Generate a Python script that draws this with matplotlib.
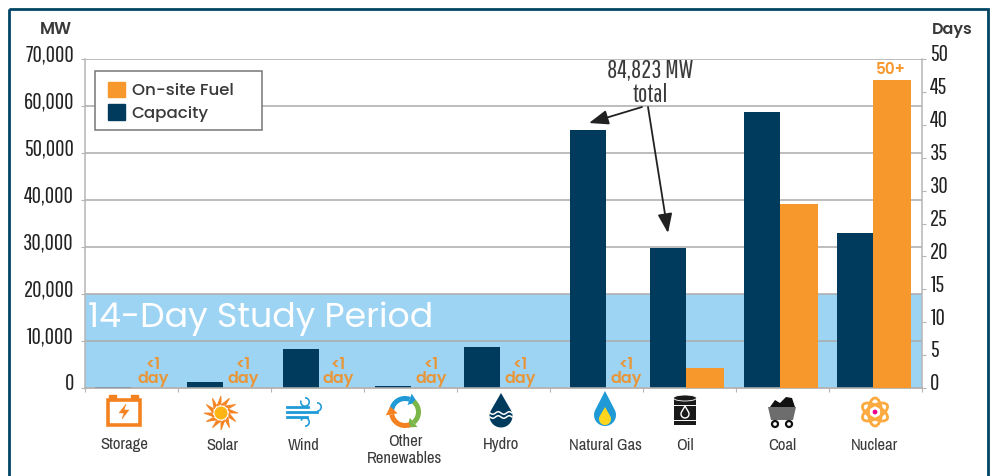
import matplotlib
matplotlib.use('Agg')
import matplotlib.pyplot as plt
from matplotlib.patches import Rectangle, Circle, Ellipse, Polygon, Wedge, FancyArrowPatch
from matplotlib.transforms import ScaledTranslation
from matplotlib.ticker import FuncFormatter
import numpy as np

# Data
categories = ['Storage', 'Solar', 'Wind', 'Other\nRenewables', 'Hydro',
              'Natural Gas', 'Oil', 'Coal', 'Nuclear']
capacity_mw = [300, 1280, 8300, 500, 8800, 55000, 29800, 58700, 33000]
fuel_days = [0, 0, 0, 0, 0, 0, 3, 28, 46.8]
day_labels = ['<1', '<1', '<1', '<1', '<1', '<1', '', '', '50+']
study_period_mw = 20000
total_label = '84,823 MW\ntotal'

# Layout, in pixels of the original picture
W, H = 995, 476
LEFT, RIGHT, TOP, BOTTOM = 85, 922, 59, 388
BAR_LEFT = [95, 187, 283, 375, 464, 570, 650, 744, 837]
CAP_W, FUEL_W = 36, 38
LABEL_X = [124, 222, 304, 405, 501, 605, 685, 782, 875]
LABEL_Y = [445, 445, 445, 450, 445, 445, 445, 445, 445]
DAY_X = [153, 243, 338, 431, 520, 626]

NAVY = '#003a5d'
ORANGE = '#f7982d'
BAND = '#9dd3f3'
GRID = '#ababab'
TXT = '#3a3a3a'
TICKFONT = ['Pathway Gothic One', 'Liberation Sans']
NARROW = ['Archivo Narrow', 'Liberation Sans']
WIDE = ['Poppins', 'Inter', 'DejaVu Sans']

fig = plt.figure(figsize=(W / 100, H / 100), dpi=100)
ax = fig.add_axes([LEFT / W, 1 - BOTTOM / H, (RIGHT - LEFT) / W, (BOTTOM - TOP) / H])
ax.set_xlim(LEFT, RIGHT)
ax.set_ylim(0, 70000)
ax2 = ax.twinx()
ax2.set_ylim(0, 50)
ax2.patch.set_visible(False)

# Blue band and grid
ax.axhspan(0, study_period_mw, color=BAND, lw=0, zorder=0)
ax.set_yticks(np.arange(0, 70001, 10000))
ax.yaxis.set_major_formatter(FuncFormatter(lambda v, p: f'{int(v):,}'))
ax.grid(axis='y', color=GRID, lw=1.1, zorder=1)
ax.set_axisbelow(True)
ax.set_xticks(np.linspace(LEFT, RIGHT, 10))
ax.set_xticklabels([])
ax2.set_yticks(np.arange(0, 51, 5))

# Bars
lefts = np.array(BAR_LEFT)
ax.bar(lefts, capacity_mw, width=CAP_W, align='edge', color=NAVY, zorder=3)
ax2.bar(lefts + CAP_W, fuel_days, width=FUEL_W, align='edge', color=ORANGE, zorder=3)

for a in (ax, ax2):
    for s in a.spines.values():
        s.set_visible(False)
    a.spines['bottom'].set_visible(True)
    a.spines['bottom'].set_color('#b5b5b5')
    a.spines['bottom'].set_linewidth(1.1)
ax2.spines['right'].set_visible(True)
ax2.spines['right'].set_color('#b5b5b5')
ax2.spines['right'].set_linewidth(1.1)
ax.spines['left'].set_visible(True)
ax.spines['left'].set_color('#b5b5b5')
ax.spines['left'].set_linewidth(1.1)

ax.tick_params(axis='x', length=3, color='#b5b5b5')
ax.tick_params(axis='y', length=3, color='#b5b5b5', pad=5, labelsize=16.5, labelcolor='#222222')
ax2.tick_params(axis='y', length=3, color='#b5b5b5', pad=3, labelsize=16.5, labelcolor='#222222')
shift = ScaledTranslation(0, 4.4 / 72, fig.dpi_scale_trans)
for lab in ax.get_yticklabels() + ax2.get_yticklabels():
    lab.set_family(TICKFONT)
    lab.set_transform(lab.get_transform() + shift)

# Overlay in picture pixels for border, texts and icons
ov = fig.add_axes([0, 0, 1, 1], zorder=10)
ov.set_xlim(0, W)
ov.set_ylim(H, 0)
ov.axis('off')
ov.patch.set_visible(False)
ov.add_patch(Rectangle((9, 9), 979, 490, fill=False, ec='#004564', lw=2, clip_on=True))

ov.text(56, 30, 'MW', ha='center', va='center', family=WIDE, weight='semibold', fontsize=12, color=TXT)
ov.text(952, 30, 'Days', ha='center', va='center', family=WIDE, weight='semibold', fontsize=11.5, color=TXT)

ov.text(88, 319, '14-Day Study Period', ha='left', va='center', family=WIDE, fontsize=25, color='white')

for x, txt in zip(DAY_X, day_labels):
    ov.text(x, 372, txt + '\nday', ha='center', va='center', family=WIDE, weight='semibold', fontsize=11.5,
            color='#e8963a', linespacing=0.85)
ov.text(891, 70, day_labels[8], ha='center', va='center', family=WIDE, weight='semibold', fontsize=11, color=ORANGE)

for x, y, name in zip(LABEL_X, LABEL_Y, categories):
    ov.text(x, y, name, ha='center', va='center', family=NARROW, fontsize=12, color=TXT, linespacing=1.1)

# Legend, the frame is wider than the entries need
ov.add_patch(Rectangle((95, 71), 167, 59, fc='white', ec='#777777', lw=1.1, zorder=4))
handles = [Rectangle((0, 0), 1, 1, color=ORANGE), Rectangle((0, 0), 1, 1, color=NAVY)]
leg = ov.legend(handles, ['On-site Fuel', 'Capacity'], loc='upper left',
                bbox_to_anchor=(101 / W, 1 - 75 / H), borderaxespad=0, frameon=False,
                handlelength=1.05, handleheight=1.05, handletextpad=0.4, labelspacing=0.3,
                prop={'family': WIDE, 'weight': 'medium', 'size': 12}, labelcolor=TXT)

# Callout
ov.text(650, 83, total_label, ha='center', va='center', family=TICKFONT, fontsize=18,
        color=TXT, linespacing=1.0)
for tail, tip in [((642, 107), (589, 123)), ((648, 107), (668, 233))]:
    ov.add_patch(FancyArrowPatch(tail, tip, arrowstyle='-|>,head_length=4.5,head_width=1.7',
                                 color='#222222', lw=1.3, shrinkA=0, shrinkB=0, mutation_scale=2.6))


def battery(cx, cy):
    c = '#f58220'
    ov.add_patch(Rectangle((cx - 16, cy - 12), 32, 25, fc='white', ec=c, lw=2.6))
    ov.add_patch(Rectangle((cx - 15, cy - 17), 7, 5, fc=c, ec=c))
    ov.add_patch(Rectangle((cx + 7, cy - 17), 7, 5, fc=c, ec=c))
    ov.add_patch(Polygon([(cx + 2, cy - 8), (cx - 5, cy + 1), (cx, cy + 1), (cx - 2, cy + 7),
                          (cx + 5, cy - 2), (cx, cy - 2)], fc=c, ec=c, lw=0.3))


def sun(cx, cy):
    for ang in np.arange(0, 360, 30):
        a = np.radians(ang)
        b = a + np.radians(30)
        ov.add_patch(Polygon([(cx + 8 * np.cos(a), cy + 8 * np.sin(a)),
                              (cx + 17 * np.cos(b), cy + 17 * np.sin(b)),
                              (cx + 9 * np.cos(b), cy + 9 * np.sin(b))], fc='#f58220', ec='#f58220', lw=0.6))
    ov.add_patch(Circle((cx, cy), 6.5, fc='#fdb515', ec='none'))


def wind(cx, cy):
    c = '#1f9ad6'
    for y, x0, x1 in [(-5, -17, 4), (0, -17, 13), (5, -17, 3)]:
        ov.plot([cx + x0, cx + x1], [cy + y, cy + y], color=c, lw=2)
    ov.add_patch(Wedge((cx + 1, cy - 10), 5, 270, 200, width=1.6, fc=c, ec='none'))
    ov.add_patch(Wedge((cx + 13, cy - 5), 5, 270, 90, width=1.6, fc=c, ec='none'))
    ov.add_patch(Wedge((cx + 1, cy + 10), 5, 200, 90, width=1.6, fc=c, ec='none'))


def recycle(cx, cy):
    for a0, a1, c in [(190, 290, '#1f9ad6'), (310, 50, '#7ab648'), (70, 170, '#f58220')]:
        ov.add_patch(Wedge((cx, cy), 16, a0, a1, width=5, fc=c, ec='none'))
        a = np.radians(a1)
        p = np.array([cx + 13.5 * np.cos(a), cy + 13.5 * np.sin(a)])
        d = np.array([-np.sin(a), np.cos(a)])
        n = np.array([np.cos(a), np.sin(a)])
        ov.add_patch(Polygon([p + n * 6, p - n * 6, p + d * 8], fc=c, ec='none'))


def drop(cx, cy, r, top, fc, ec='none'):
    t = np.linspace(-np.pi * 0.15, np.pi * 1.15, 30)
    pts = [(cx, cy - top)] + [(cx + r * np.cos(v), cy + r * np.sin(v)) for v in t]
    ov.add_patch(Polygon(pts, fc=fc, ec=ec))


def hydro(cx, cy):
    drop(cx, cy + 5, 11.5, 23, NAVY)
    for dy in (2, 6):
        x = np.linspace(cx - 11, cx + 11, 20)
        ov.plot(x, cy + dy + 1.3 * np.sin((x - cx) * 0.57), color='white', lw=1.1)


def flame(cx, cy):
    drop(cx, cy + 5, 11, 24, '#1f9ad6')
    drop(cx, cy + 9, 6, 12, '#ffd51e')


def barrel(cx, cy):
    ov.add_patch(Rectangle((cx - 11, cy - 13), 22, 27, fc='#1a1a1a', ec='none'))
    ov.add_patch(Ellipse((cx, cy - 13), 23, 6, fc='#1a1a1a', ec='white', lw=0.6))
    for dy in (-6, 9):
        ov.plot([cx - 11, cx + 11], [cy + dy, cy + dy], color='white', lw=0.7)
    drop(cx, cy + 3, 4, 8, '#1a1a1a', 'white')


def coal(cx, cy):
    ov.add_patch(Polygon([(cx - 12, cy - 4), (cx - 7, cy - 11), (cx - 2, cy - 8), (cx + 4, cy - 14),
                          (cx + 10, cy - 13), (cx + 13, cy - 4)], fc='#111111', ec='none'))
    ov.add_patch(Polygon([(cx - 14, cy - 4), (cx + 14, cy - 4), (cx + 11, cy + 9), (cx - 11, cy + 9)],
                         fc='#6d6d6d', ec='none'))
    for dx in (-7, 7):
        ov.add_patch(Circle((cx + dx, cy + 13), 3, fc='white', ec='#111111', lw=1.6))


def atom(cx, cy):
    for ang in (30, 90, 150):
        ov.add_patch(Ellipse((cx, cy), 28, 13, angle=ang, fc='none', ec='#fbaa3f', lw=2))
    ov.add_patch(Circle((cx, cy), 2.4, fc='#ec008c', ec='none'))


battery(124, 412)
sun(221, 413)
wind(304, 412)
recycle(405, 412)
hydro(501, 411)
flame(605, 410)
barrel(685, 411)
coal(782, 411)
atom(875, 412)

fig.savefig('out.png', dpi=100)
